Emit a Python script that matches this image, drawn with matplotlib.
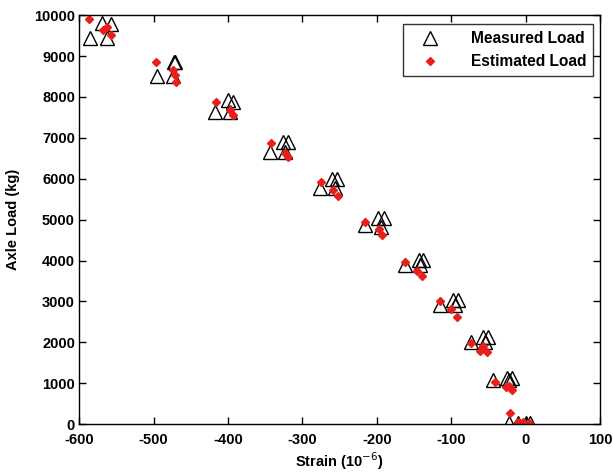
import matplotlib
matplotlib.use("Agg")
import matplotlib.pyplot as plt

# Measured load (triangles)
meas_strain = [-585, -569, -557, -562,
               -495, -474, -471, -473,
               -417, -400, -393, -397,
               -343, -326, -319, -323,
               -276, -260, -253, -256,
               -216, -198, -191, -195,
               -162, -144, -138, -142,
               -115, -97, -91, -95,
               -74, -57, -50, -54,
               -44, -25, -18, -22,
               -22, -10, 0, 6]
meas_load = [9440, 9800, 9780, 9440,
             8510, 8510, 8850, 8850,
             7630, 7920, 7870, 7630,
             6650, 6900, 6900, 6650,
             5770, 5990, 5990, 5770,
             4870, 5040, 5040, 4820,
             3890, 4010, 4010, 3890,
             2910, 3030, 3030, 2910,
             2000, 2130, 2130, 2000,
             1075, 1120, 1120, 1075,
             30, 20, 20, 40]

# Estimated load (red points)
est_strain = [-587, -568, -562, -557,
              -497, -474, -471, -470,
              -416, -397, -393,
              -342, -323, -319,
              -275, -259, -252,
              -216, -197, -193,
              -162, -146, -139,
              -115, -100, -92,
              -74, -58, -61, -52,
              -41, -27, -23, -18,
              -21, -10, -3, 4]
est_load = [9900, 9630, 9710, 9510,
            8850, 8650, 8530, 8360,
            7870, 7680, 7550,
            6870, 6630, 6530,
            5920, 5720, 5575,
            4940, 4770, 4620,
            3960, 3740, 3620,
            3000, 2810, 2620,
            1990, 1910, 1800, 1770,
            1030, 900, 930, 830,
            270, 50, 50, 30]

x_ticks = [-600, -500, -400, -300, -200, -100, 0, 100]
y_ticks = [0, 1000, 2000, 3000, 4000, 5000, 6000, 7000, 8000, 9000, 10000]

plt.rcParams['font.family'] = ['Liberation Sans', 'DejaVu Sans']
plt.rcParams['axes.unicode_minus'] = False
fig = plt.figure(figsize=(6.13, 4.75), dpi=100)
ax = fig.add_axes([0.129, 0.107, 0.850, 0.861])

ax.plot(meas_strain, meas_load, linestyle='none', marker='^', markersize=10,
        markerfacecolor='none', markeredgecolor='black', markeredgewidth=1.0,
        label='Measured Load')
ax.plot(est_strain, est_load, linestyle='none', marker='D', markersize=4,
        color='#e8201c', label='Estimated Load')

ax.set_xlim(-600, 100)
ax.set_ylim(0, 10000)
ax.set_xticks(x_ticks)
ax.set_yticks(y_ticks)
ax.tick_params(direction='in', top=True, right=True, length=5, width=1,
               labelsize=10.5, pad=3)
ax.tick_params(axis='x', pad=6)
for lab in ax.get_xticklabels() + ax.get_yticklabels():
    lab.set_fontweight('bold')
for s in ax.spines.values():
    s.set_linewidth(1.0)

ax.set_xlabel('Strain (10$^{-6}$)', fontsize=10.5, fontweight='bold', labelpad=3)
ax.set_ylabel('Axle Load (kg)', fontsize=10.5, fontweight='bold', labelpad=10)

leg = ax.legend(loc='upper right', fontsize=11.2, frameon=True, fancybox=False,
                edgecolor='black', borderpad=0.45, handlelength=2.6,
                handletextpad=1.3, borderaxespad=0,
                bbox_to_anchor=(0.987, 0.978))
leg.get_frame().set_linewidth(1.0)
for t in leg.get_texts():
    t.set_fontweight('bold')

fig.savefig('out.png', dpi=100)
